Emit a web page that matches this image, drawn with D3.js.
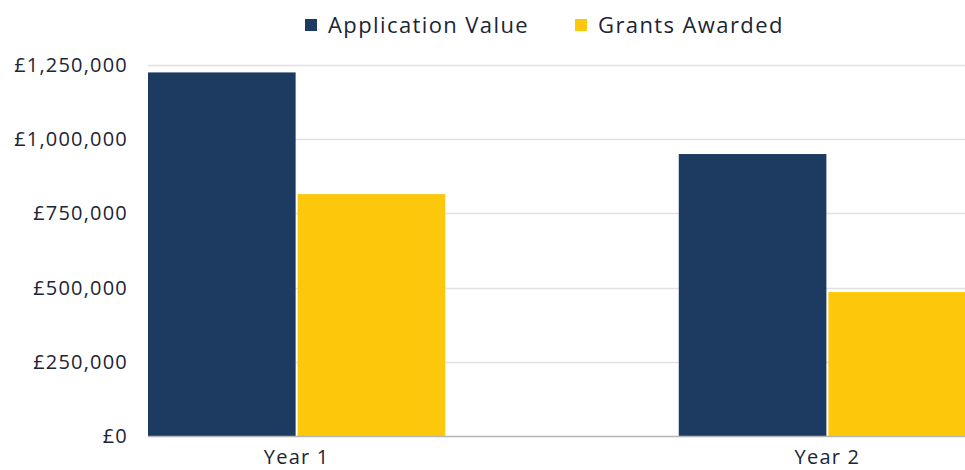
<!DOCTYPE html>
<html>
<head>
<meta charset="utf-8">
<script src="https://cdn.jsdelivr.net/npm/d3@7"></script>
<style>
  html, body { margin: 0; padding: 0; background: #ffffff; }
  svg { display: block; font-family: "Open Sans", "DejaVu Sans", sans-serif; }
</style>
</head>
<body>
<svg id="chart" width="965" height="470"></svg>
<script>
// Grant funding by year
const categories = ["Year 1", "Year 2"];
const seriesNames = ["Application Value", "Grants Awarded"];
const applicationValue = [1225000, 950000];
const grantsAwarded = [815000, 485000];
const yTicks = [0, 250000, 500000, 750000, 1000000, 1250000];
const seriesColors = ["#1d3a61", "#fdc80c"];

const rows = categories.map((c, i) => ({
  category: c,
  values: [applicationValue[i], grantsAwarded[i]]
}));

const svg = d3.select("#chart");
const W = 965, H = 470;
const plotLeft = 148, plotTop = 65, plotBottom = 436;
const textColor = "#1b2534";

const y = d3.scaleLinear().domain([0, 1250000]).range([plotBottom, plotTop]);

const x0 = d3.scaleBand()
  .domain(categories)
  .range([plotLeft, 976])
  .paddingInner(0.44)
  .paddingOuter(0);

const x1 = d3.scaleBand()
  .domain(seriesNames)
  .range([0, x0.bandwidth()])
  .paddingInner(0.0);

// Gridlines
svg.append("g")
  .selectAll("line")
  .data(yTicks.filter(d => d > 0))
  .join("line")
  .attr("x1", plotLeft)
  .attr("x2", W)
  .attr("y1", d => Math.round(y(d)) + 0.5)
  .attr("y2", d => Math.round(y(d)) + 0.5)
  .attr("stroke", "#e1e1e1")
  .attr("stroke-width", 1.5);

// Y axis labels
const fmt = v => "£" + d3.format(",")(v);
const yAxis = d3.axisLeft(y).tickValues(yTicks).tickFormat(fmt).tickSize(0).tickPadding(20);
const yG = svg.append("g").attr("transform", `translate(${plotLeft},0)`).call(yAxis);
yG.select(".domain").remove();
yG.selectAll("text")
  .attr("fill", textColor)
  .attr("font-size", 20)
  .attr("font-weight", 500)
  .attr("letter-spacing", "1.2px")
  .attr("font-family", "'Open Sans', sans-serif");

// Bars
const groups = svg.append("g")
  .selectAll("g")
  .data(rows)
  .join("g")
  .attr("transform", d => `translate(${x0(d.category)},0)`);

groups.selectAll("rect")
  .data(d => d.values.map((v, i) => ({ key: seriesNames[i], value: v, i })))
  .join("rect")
  .attr("x", d => x1(d.key) + (d.i === 1 ? 1 : 0))
  .attr("width", d => x1.bandwidth() - 1)
  .attr("y", d => y(d.value))
  .attr("height", d => plotBottom - y(d.value))
  .attr("fill", d => seriesColors[d.i]);

// Baseline
svg.append("line")
  .attr("x1", plotLeft).attr("x2", W)
  .attr("y1", plotBottom + 0.5).attr("y2", plotBottom + 0.5)
  .attr("stroke", "#b5b5b5")
  .attr("stroke-width", 1.5);

// X axis labels
svg.append("g")
  .selectAll("text")
  .data(categories)
  .join("text")
  .attr("x", d => x0(d) + x0.bandwidth() / 2)
  .attr("y", 464)
  .attr("text-anchor", "middle")
  .attr("fill", textColor)
  .attr("font-size", 20)
  .attr("font-weight", 500)
  .attr("letter-spacing", "1.2px")
  .text(d => d);

// Legend
const legendItems = [
  { name: seriesNames[0], color: seriesColors[0], x: 305 },
  { name: seriesNames[1], color: seriesColors[1], x: 575 }
];
const lg = svg.append("g");
legendItems.forEach(it => {
  lg.append("rect")
    .attr("x", it.x).attr("y", 19)
    .attr("width", 12).attr("height", 12)
    .attr("fill", it.color);
  lg.append("text")
    .attr("x", it.x + 23).attr("y", 33)
    .attr("fill", textColor)
    .attr("font-size", 22)
    .attr("font-weight", 500)
    .attr("letter-spacing", "1.4px")
    .text(it.name);
});
</script>
</body>
</html>
